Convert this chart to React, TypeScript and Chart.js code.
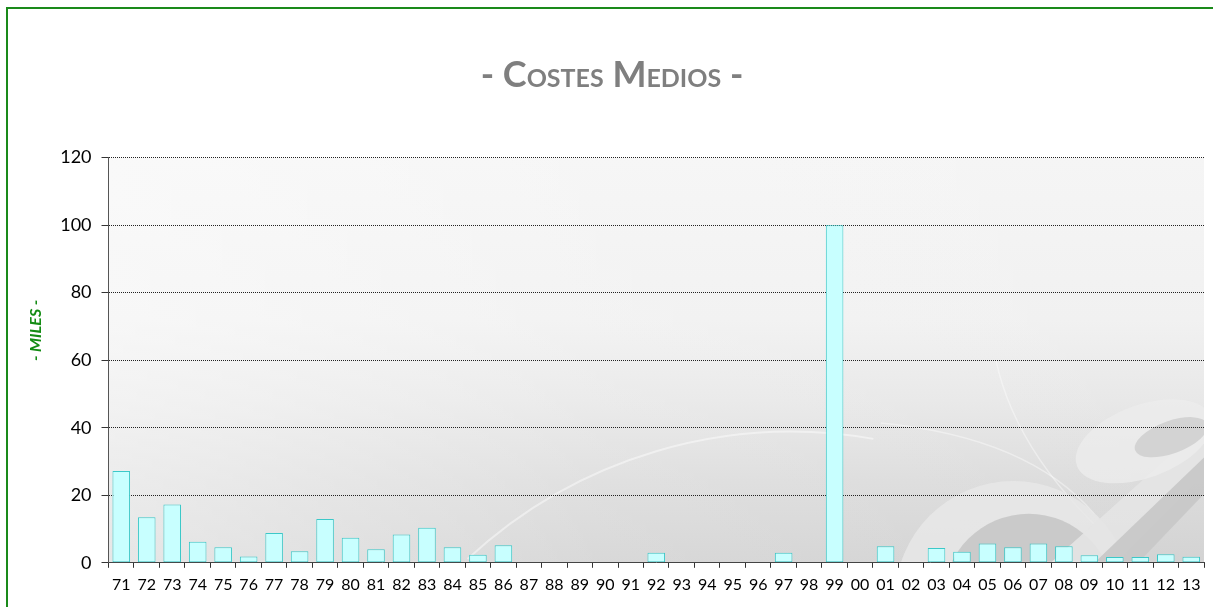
import React, { useEffect, useRef } from "react";
import { Chart, registerables } from "chart.js";

Chart.register(...registerables);

// ---- data ----
const categories = [
  "71", "72", "73", "74", "75", "76", "77", "78", "79", "80",
  "81", "82", "83", "84", "85", "86", "87", "88", "89", "90",
  "91", "92", "93", "94", "95", "96", "97", "98", "99", "00",
  "01", "02", "03", "04", "05", "06", "07", "08", "09", "10",
  "11", "12", "13",
];
const costesMedios = [
  27.2, 13.5, 17.3, 6.2, 4.6, 1.9, 8.8, 3.4, 13.0, 7.4,
  4.0, 8.4, 10.4, 4.6, 2.4, 5.2, 0, 0, 0, 0,
  0, 3.0, 0, 0, 0, 0, 3.0, 0, 100, 0,
  4.9, 0, 4.4, 3.3, 5.7, 4.6, 5.7, 4.9, 2.2, 1.7,
  1.7, 2.5, 1.8,
];
const yTicks = [0, 20, 40, 60, 80, 100, 120];
const chartTitle = "- Costes Medios -";
const yAxisTitle = "- MILES -";

// background of the plot area (gradient + faint watermark)
const plotBackground = {
  id: "plotBackground",
  beforeDraw(chart: any) {
    const { ctx, chartArea: a } = chart;
    const w = a.right - a.left;
    const h = a.bottom - a.top;
    const X = (f: number) => a.left + f * w;
    const Y = (f: number) => a.top + f * h;
    ctx.save();
    ctx.beginPath();
    ctx.rect(a.left, a.top, w, h);
    ctx.clip();
    const g = ctx.createLinearGradient(0, a.top, 0, a.bottom);
    g.addColorStop(0, "#f5f5f5");
    g.addColorStop(0.4, "#f1f1f1");
    g.addColorStop(0.6, "#e8e8e8");
    g.addColorStop(0.8, "#dcdcdc");
    g.addColorStop(1, "#d3d3d3");
    ctx.fillStyle = g;
    ctx.fillRect(a.left, a.top, w, h);
    // soft white toward the left
    const g2 = ctx.createLinearGradient(a.left, 0, a.right, 0);
    g2.addColorStop(0, "rgba(255,255,255,0.45)");
    g2.addColorStop(0.45, "rgba(255,255,255,0.12)");
    g2.addColorStop(1, "rgba(255,255,255,0)");
    ctx.fillStyle = g2;
    ctx.fillRect(a.left, a.top, w, h);

    // faint swoosh arcs
    ctx.strokeStyle = "rgba(255,255,255,0.45)";
    ctx.lineWidth = 2;
    ctx.beginPath();
    ctx.arc(X(0.623), Y(1.847), w * 0.433, (-133 * Math.PI) / 180, (-80 * Math.PI) / 180);
    ctx.stroke();
    ctx.lineWidth = 1.5;
    ctx.strokeStyle = "rgba(255,255,255,0.4)";
    ctx.beginPath();
    ctx.moveTo(X(0.705), Y(0.655));
    ctx.quadraticCurveTo(X(0.84), Y(0.69), X(0.9), Y(0.88));
    ctx.stroke();
    ctx.beginPath();
    ctx.moveTo(X(0.81), Y(0.5));
    ctx.quadraticCurveTo(X(0.83), Y(0.75), X(0.93), Y(0.98));
    ctx.stroke();

    // watermark logo shapes
    ctx.fillStyle = "rgba(232,232,232,0.85)";
    ctx.beginPath();
    ctx.arc(X(0.826), Y(1.09), w * 0.108, 0, Math.PI * 2);
    ctx.fill();
    ctx.fillStyle = "rgba(200,200,200,0.95)";
    ctx.beginPath();
    ctx.arc(X(0.84), Y(1.09), w * 0.078, 0, Math.PI * 2);
    ctx.fill();
    // diagonal band
    ctx.fillStyle = "rgba(228,228,228,0.9)";
    ctx.beginPath();
    ctx.moveTo(X(0.86), Y(1.0));
    ctx.lineTo(X(0.92), Y(1.0));
    ctx.lineTo(X(1.0), Y(0.78));
    ctx.lineTo(X(1.0), Y(0.66));
    ctx.closePath();
    ctx.fill();
    ctx.fillStyle = "rgba(200,200,200,0.95)";
    ctx.beginPath();
    ctx.moveTo(X(0.9), Y(1.0));
    ctx.lineTo(X(0.94), Y(1.0));
    ctx.lineTo(X(1.0), Y(0.83));
    ctx.lineTo(X(1.0), Y(0.74));
    ctx.closePath();
    ctx.fill();
    // upper loop of the "2"
    ctx.fillStyle = "rgba(236,236,236,0.8)";
    ctx.beginPath();
    ctx.ellipse(X(0.945), Y(0.7), w * 0.065, h * 0.09, -0.35, 0, Math.PI * 2);
    ctx.fill();
    ctx.fillStyle = "rgba(208,208,208,0.9)";
    ctx.beginPath();
    ctx.ellipse(X(0.97), Y(0.69), w * 0.035, h * 0.04, -0.35, 0, Math.PI * 2);
    ctx.fill();
    ctx.restore();
  },
};

export default function App() {
  const canvasRef = useRef<HTMLCanvasElement | null>(null);

  useEffect(() => {
    if (!canvasRef.current) return;
    const chart = new Chart(canvasRef.current, {
      type: "bar",
      data: {
        labels: categories,
        datasets: [
          {
            label: "Costes medios",
            data: costesMedios,
            backgroundColor: "#c8ffff",
            borderColor: "#3cc8c8",
            borderWidth: 1,
            borderSkipped: false,
            barPercentage: 0.69,
            categoryPercentage: 1,
          },
        ],
      },
      options: {
        animation: false,
        responsive: false,
        devicePixelRatio: 1,
        layout: { padding: { left: 20, right: 9, top: 0, bottom: 6 } },
        plugins: {
          legend: { display: false },
          tooltip: { enabled: false },
          title: {
            display: true,
            text: chartTitle,
            color: "#7f7f7f",
            font: { family: "Lato", size: 36, weight: "small-caps bold" as any, lineHeight: 1.2 },
            padding: { top: 54, bottom: 60.4 },
          },
        },
        scales: {
          x: {
            grid: {
              display: true,
              drawOnChartArea: false,
              drawTicks: true,
              tickLength: 5,
              tickColor: "#333333",
              offset: true,
            },
            border: { display: true, color: "#444444", width: 1, dash: [1, 1] },
            ticks: {
              color: "#000000",
              font: { family: "Lato", size: 16 },
              padding: 7,
              maxRotation: 0,
              autoSkip: false,
            },
          },
          y: {
            min: 0,
            max: 120,
            afterBuildTicks: (scale: any) => {
              scale.ticks = yTicks.map((v) => ({ value: v }));
            },
            grid: {
              color: "#222222",
              lineWidth: 1,
              tickLength: 7,
              tickColor: "#333333",
            },
            border: { display: true, color: "#555555", width: 1, dash: [1, 1] },
            ticks: {
              color: "#000000",
              font: { family: "Lato", size: 18 },
              padding: 10,
            },
            title: {
              display: true,
              text: " ".repeat(17) + yAxisTitle,
              color: "#148c14",
              font: { family: "Lato", size: 16, weight: "bold", style: "italic" },
              padding: { top: 6, bottom: 5 },
            },
          },
        },
      },
      plugins: [plotBackground],
    });
    return () => chart.destroy();
  }, []);

  return (
    <div style={{ position: "fixed", left: 0, top: 0, width: 1213, height: 607, overflow: "hidden", background: "#ffffff" }}>
      <div
        style={{
          position: "absolute",
          left: 6,
          top: 7,
          width: 1230,
          height: 640,
          border: "2px solid #1a8a1a",
          boxSizing: "border-box",
        }}
      />
      <canvas
        ref={canvasRef}
        width={1213}
        height={607}
        style={{ position: "absolute", left: 0, top: 0, width: 1213, height: 607 }}
      />
    </div>
  );
}
